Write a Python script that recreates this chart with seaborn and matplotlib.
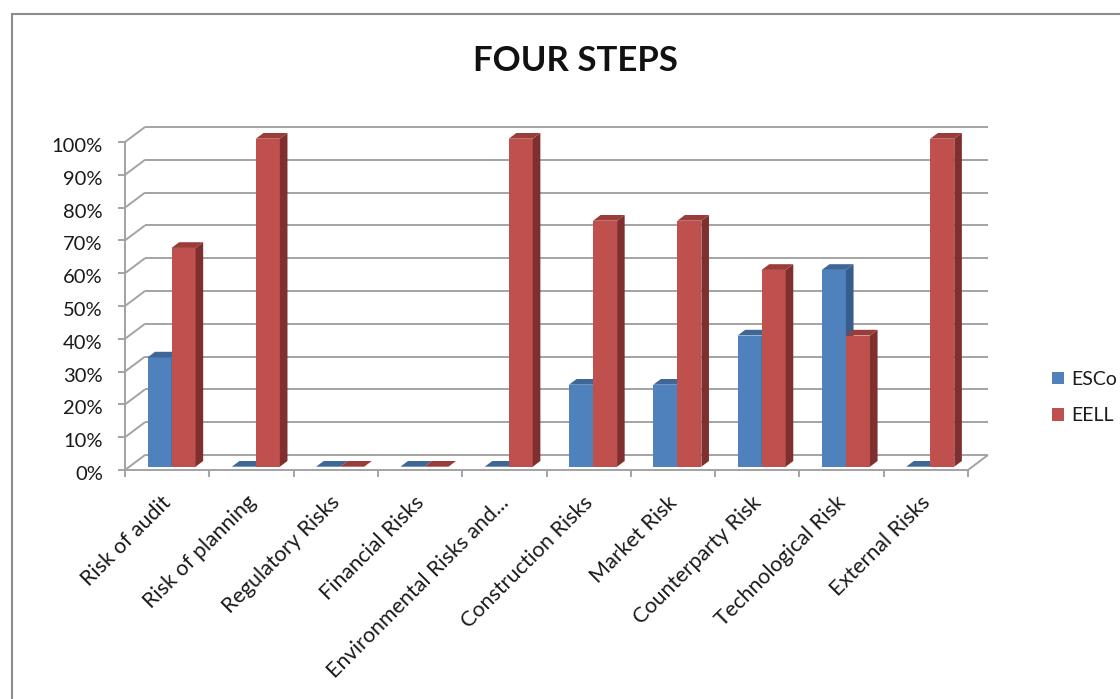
import matplotlib
matplotlib.use("Agg")
import matplotlib.pyplot as plt
import matplotlib.transforms as mtransforms
from matplotlib.patches import Polygon, Patch
from matplotlib.lines import Line2D
import numpy as np
import pandas as pd
import seaborn as sns

# ---- data ----
categories = ["Risk of audit", "Risk of planning", "Regulatory Risks", "Financial Risks",
              "Environmental Risks and...", "Construction Risks", "Market Risk",
              "Counterparty Risk", "Technological Risk", "External Risks"]
series = ["ESCo", "EELL"]
esco = [33.3, 0, 0, 0, 0, 25, 25, 40, 60, 0]
eell = [66.7, 100, 0, 0, 100, 75, 75, 60, 40, 100]
y_ticks = list(range(0, 101, 10))

front_colors = {"ESCo": "#4F81BD", "EELL": "#C0504D"}
side_colors = {"ESCo": "#385D8A", "EELL": "#7F302E"}
top_colors = {"ESCo": "#3E6797", "EELL": "#9A3C39"}

df = pd.DataFrame({
    "category": categories * 2,
    "series": [s for s in series for _ in categories],
    "value": esco + eell,
})

sns.set_theme(style="white")
plt.rcParams["font.family"] = ["Lato", "DejaVu Sans"]
text_color = "#1A1A1A"
grid_color = "#A3A3A3"

W, H = 1120, 699
fig = plt.figure(figsize=(W / 100, H / 100), dpi=100)
ax = fig.add_axes([125 / W, (H - 470) / H, 843 / W, 328 / H])

# depth of the pseudo-3D box, in data units
wall_dx = 20 / 84.3
wall_dy = 15 / 3.28
bar_pos = 0.22      # where the bar fronts sit inside the depth
bar_depth = 0.38    # thickness of each bar

n = len(categories)
x0, x1 = -0.5, n - 0.5
grid_kw = dict(color=grid_color, lw=1.4, clip_on=False, zorder=1, solid_capstyle="butt")

# back wall gridlines and left wall diagonals
for t in y_ticks:
    ax.plot([x0 + wall_dx, x1 + wall_dx], [t + wall_dy, t + wall_dy], **grid_kw)
    ax.plot([x0, x0 + wall_dx], [t, t + wall_dy], **grid_kw)
# floor front/right edges and front value axis
ax.plot([x0, x1, x1 + wall_dx], [0, 0, wall_dy], **grid_kw)
ax.plot([x0, x0], [0, 100], **grid_kw)

# front faces of the bars
sns.barplot(data=df, x="category", y="value", hue="series", order=categories,
            hue_order=series, palette=front_colors, width=0.57, saturation=1,
            linewidth=0, legend=False, ax=ax)

bdx, bdy = bar_pos * wall_dx, bar_pos * wall_dy
ddx, ddy = bar_depth * wall_dx, bar_depth * wall_dy
for k, (s, cont) in enumerate(zip(series, ax.containers)):
    z = 3 + k
    for bar in cont:
        x = bar.get_x() + bdx
        w = bar.get_width()
        h = bar.get_height()
        bar.set_x(x)
        bar.set_y(bdy)
        bar.set_zorder(z)
        bar.set_clip_on(False)
        y0, y1 = bdy, bdy + h
        side = Polygon([(x + w, y0), (x + w + ddx, y0 + ddy), (x + w + ddx, y1 + ddy), (x + w, y1)],
                       closed=True, facecolor=side_colors[s], edgecolor="none", zorder=z, clip_on=False)
        top = Polygon([(x, y1), (x + ddx, y1 + ddy), (x + w + ddx, y1 + ddy), (x + w, y1)],
                      closed=True, facecolor=top_colors[s], edgecolor="none", zorder=z, clip_on=False)
        ax.add_patch(side)
        ax.add_patch(top)

ax.set_xlim(x0, x1)
ax.set_ylim(0, 100)
for sp in ax.spines.values():
    sp.set_visible(False)
ax.set_xlabel("")
ax.set_ylabel("")
ax.grid(False)

# value axis
ax.set_yticks(y_ticks)
ax.set_yticklabels([f"{t}%" for t in y_ticks])
ax.tick_params(axis="y", left=True, length=5, width=1.4, color=grid_color,
               pad=11, labelsize=14.5, labelcolor=text_color)
shift_y = mtransforms.ScaledTranslation(0, -3 / 100, fig.dpi_scale_trans)
for lab in ax.get_yticklabels():
    lab.set_transform(lab.get_transform() + shift_y)

# category axis
ax.set_xticks(range(n))
ax.set_xticklabels(categories, rotation=45, ha="right", rotation_mode="anchor")
ax.tick_params(axis="x", which="major", bottom=True, length=0, pad=16,
               labelsize=15.5, labelcolor=text_color)
ax.set_xticks(np.arange(x0, n, 1), minor=True)
ax.tick_params(axis="x", which="minor", bottom=True, length=5, width=1.4,
               color=grid_color, direction="out")
shift_x = mtransforms.ScaledTranslation(-6 / 100, 0, fig.dpi_scale_trans)
for lab in ax.get_xticklabels():
    lab.set_transform(lab.get_transform() + shift_x)

# legend
handles = [Patch(facecolor=front_colors[s], edgecolor="none") for s in series]
fig.legend(handles, series, loc="center left", bbox_to_anchor=(1052 / W, 1 - 397.5 / H),
           frameon=False, borderpad=0, borderaxespad=0,
           handlelength=0.62, handleheight=0.62, handletextpad=0.35,
           labelspacing=1.0, fontsize=14, labelcolor=text_color)

# title
fig.text(575.5 / W, 1 - 61 / H, "FOUR STEPS", ha="center", va="center",
         fontsize=25, fontweight="bold", color="#111111")

# chart area border
fig.add_artist(Line2D([12 / W, 12 / W], [0, 1 - 14 / H], transform=fig.transFigure,
                      color="#8C8C8C", lw=1.5))
fig.add_artist(Line2D([12 / W, 1], [1 - 14 / H, 1 - 14 / H], transform=fig.transFigure,
                      color="#8C8C8C", lw=1.5))

fig.savefig("out.png", dpi=100)
